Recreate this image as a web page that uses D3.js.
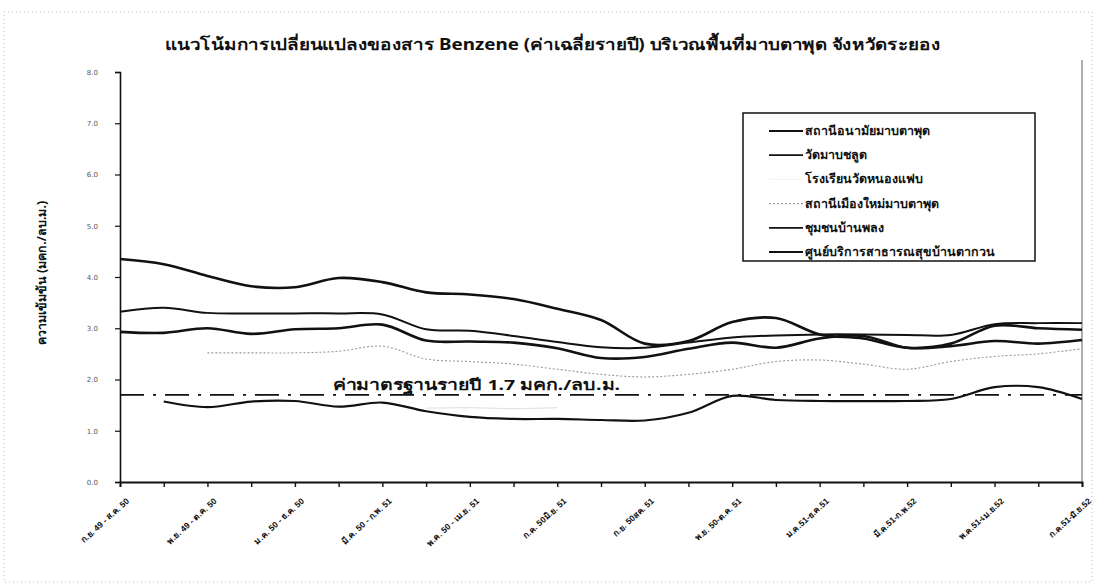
<!DOCTYPE html>
<html>
<head>
<meta charset="utf-8">
<script src="https://cdn.jsdelivr.net/npm/d3@7"></script>
<style>
  body { margin: 0; background: #fff; }
  svg { font-family: "Noto Sans", "DejaVu Sans", sans-serif; }
</style>
</head>
<body>
<div id="chart"></div>
<script>
// categories (rolling 12-month windows)
var categories = [
    "ก.ย. 49 - ส.ค. 50", "ต.ค. 49 - ก.ย. 50", "พ.ย. 49 - ต.ค. 50", "ธ.ค. 49 - พ.ย. 50",
    "ม.ค. 50 - ธ.ค. 50", "ก.พ. 50 - ม.ค. 51", "มี.ค. 50 - ก.พ. 51", "เม.ย. 50 - มี.ค. 51",
    "พ.ค. 50 - เม.ย. 51", "มิ.ย. 50 - พ.ค. 51", "ก.ค. 50มิ.ย. 51", "ส.ค. 50 - ก.ค. 51",
    "ก.ย. 50สค. 51", "ต.ค. 50 - ก.ย. 51", "พ.ย. 50-ต.ค. 51", "ธ.ค. 50 - พ.ย. 51",
    "ม.ค.51-ธ.ค.51", "ก.พ.51-ม.ค.52", "มี.ค.51-ก.พ.52", "เม.ย.51-มี.ค.52",
    "พ.ค.51-เม.ย.52", "มิ.ย.51-พ.ค.52", "ก.ค.51-มิ.ย.52"
];

var seriesNames = [
    "สถานีอนามัยมาบตาพุด",
    "วัดมาบชลูด",
    "โรงเรียนวัดหนองแฟบ",
    "สถานีเมืองใหม่มาบตาพุด",
    "ชุมชนบ้านพลง",
    "ศูนย์บริการสาธารณสุขบ้านตากวน"
];

var anamaiValues = [4.35, 4.25, 4.02, 3.82, 3.80, 3.98, 3.90, 3.70, 3.66, 3.57, 3.38, 3.16,
    2.70, 2.75, 3.12, 3.20, 2.88, 2.80, 2.62, 2.70, 3.05, 3.00, 2.97];
var watValues = [3.32, 3.40, 3.30, 3.29, 3.29, 3.29, 3.27, 2.98, 2.95, 2.85, 2.73, 2.63,
    2.62, 2.72, 2.82, 2.86, 2.88, 2.88, 2.87, 2.87, 3.08, 3.10, 3.10];
var schoolValues = [null, null, null, null, null, null, null, 1.44, 1.45, 1.43, 1.45, null,
    null, null, null, null, null, null, null, null, null, null, null];
var muangmaiValues = [null, null, 2.52, 2.52, 2.52, 2.55, 2.65, 2.40, 2.35, 2.30, 2.20, 2.10,
    2.05, 2.10, 2.20, 2.35, 2.38, 2.30, 2.20, 2.35, 2.45, 2.50, 2.60];
var chumchonValues = [2.93, 2.91, 3.00, 2.89, 2.98, 3.00, 3.07, 2.76, 2.74, 2.72, 2.61, 2.42,
    2.44, 2.60, 2.72, 2.62, 2.80, 2.85, 2.62, 2.65, 2.75, 2.70, 2.77];
var takuanValues = [null, 1.57, 1.46, 1.57, 1.58, 1.47, 1.55, 1.38, 1.27, 1.23, 1.23, 1.21,
    1.20, 1.35, 1.68, 1.60, 1.58, 1.58, 1.58, 1.62, 1.85, 1.85, 1.62];

var yTicks = [0, 1, 2, 3, 4, 5, 6, 7, 8];
var standardValue = 1.7;
var standardLabel = "ค่ามาตรฐานรายปี 1.7 มคก./ลบ.ม.";
var titleText = "แนวโน้มการเปลี่ยนแปลงของสาร Benzene (ค่าเฉลี่ยรายปี) บริเวณพื้นที่มาบตาพุด จังหวัดระยอง";
var yTitle = "ความเข้มข้น (มคก./ลบ.ม.)";

var W = 1118, H = 588;
var plot = {left: 120, right: 1082, top: 72, bottom: 482};

// line styles per series, same order as seriesNames
var styles = [
    {color: "#111", width: 2.6, dash: null},
    {color: "#111", width: 2.0, dash: null},
    {color: "#e4e4e4", width: 1.2, dash: null},
    {color: "#9a9a9a", width: 1.1, dash: "2,2"},
    {color: "#111", width: 2.6, dash: null},
    {color: "#111", width: 2.2, dash: null}
];
var allValues = [anamaiValues, watValues, schoolValues, muangmaiValues, chumchonValues, takuanValues];

var svg = d3.select("#chart").append("svg")
    .attr("width", W)
    .attr("height", H);

svg.append("rect").attr("width", W).attr("height", H).attr("fill", "#fff");

// faint outer frame of the chart area
svg.append("rect")
    .attr("x", 4).attr("y", 12)
    .attr("width", W - 30).attr("height", H - 18)
    .attr("fill", "none")
    .attr("stroke", "#bbb")
    .attr("stroke-width", 1)
    .attr("stroke-dasharray", "1,3");

var x = d3.scalePoint().domain(categories).range([plot.left, plot.right]);
var y = d3.scaleLinear().domain([0, 8]).range([plot.bottom, plot.top]);

// title
svg.append("text")
    .attr("x", 165).attr("y", 50)
    .attr("font-size", 16)
    .attr("font-weight", "bold")
    .attr("fill", "#111")
    .attr("textLength", 775)
    .attr("lengthAdjust", "spacingAndGlyphs")
    .text(titleText);

// y axis title
svg.append("text")
    .attr("transform", "translate(46," + ((plot.top + plot.bottom) / 2 - 4) + ") rotate(-90)")
    .attr("text-anchor", "middle")
    .attr("font-size", 12.5)
    .attr("font-weight", "bold")
    .attr("fill", "#111")
    .text(yTitle);

// plot right border
svg.append("line")
    .attr("x1", plot.right).attr("x2", plot.right)
    .attr("y1", 60).attr("y2", plot.bottom)
    .attr("stroke", "#777").attr("stroke-width", 1.2);

// y axis
var yAxis = svg.append("g")
    .attr("transform", "translate(" + plot.left + ",0)")
    .call(d3.axisLeft(y).tickValues(yTicks).tickFormat(d3.format(".1f")).tickSize(5));
yAxis.select(".domain").attr("stroke", "#111").attr("stroke-width", 1.6);
yAxis.selectAll(".tick line").attr("stroke", "#111").attr("stroke-width", 1.2);
yAxis.selectAll(".tick text")
    .attr("x", -22)
    .attr("font-size", 7)
    .attr("fill", "#555")
    .attr("font-family", "DejaVu Sans");

// x axis
var xAxis = svg.append("g")
    .attr("transform", "translate(0," + plot.bottom + ")")
    .call(d3.axisBottom(x).tickSize(5)
        .tickFormat(function(d, i) { return i % 2 === 0 ? d : ""; }));
xAxis.select(".domain").attr("stroke", "#111").attr("stroke-width", 1.8);
xAxis.selectAll(".tick line").attr("stroke", "#111").attr("stroke-width", 1.4);
xAxis.selectAll(".tick text")
    .attr("font-size", 8.5)
    .attr("font-weight", "bold")
    .attr("fill", "#111")
    .attr("text-anchor", "end")
    .attr("dy", null)
    .attr("transform", "translate(4,14) rotate(-42)");

// standard line
svg.append("line")
    .attr("x1", plot.left).attr("x2", plot.right)
    .attr("y1", y(standardValue)).attr("y2", y(standardValue))
    .attr("stroke", "#111")
    .attr("stroke-width", 1.6)
    .attr("stroke-dasharray", "24,9,3,9");

svg.append("text")
    .attr("x", 333).attr("y", y(standardValue) - 5)
    .attr("font-size", 15)
    .attr("font-weight", "bold")
    .attr("fill", "#111")
    .attr("textLength", 287)
    .attr("lengthAdjust", "spacingAndGlyphs")
    .text(standardLabel);

// series lines
var line = d3.line()
    .defined(function(d) { return d !== null; })
    .x(function(d, i) { return x(categories[i]); })
    .y(function(d) { return y(d); })
    .curve(d3.curveCatmullRom.alpha(0.5));

svg.append("g")
    .selectAll("path")
    .data(allValues)
    .enter().append("path")
    .attr("d", function(d) { return line(d); })
    .attr("fill", "none")
    .attr("stroke", function(d, i) { return styles[i].color; })
    .attr("stroke-width", function(d, i) { return styles[i].width; })
    .attr("stroke-dasharray", function(d, i) { return styles[i].dash; })
    .attr("stroke-linejoin", "round");

// legend
var lg = svg.append("g").attr("transform", "translate(743,113)");
lg.append("rect")
    .attr("width", 292).attr("height", 148)
    .attr("fill", "#fff")
    .attr("stroke", "#111")
    .attr("stroke-width", 1.5);

var items = lg.selectAll("g.item")
    .data(seriesNames)
    .enter().append("g")
    .attr("class", "item")
    .attr("transform", function(d, i) { return "translate(0," + (18 + i * 24.2) + ")"; });

items.append("line")
    .attr("x1", 26).attr("x2", 60)
    .attr("stroke", function(d, i) { return i === 2 ? "#f4f4f4" : styles[i].color; })
    .attr("stroke-width", function(d, i) { return Math.min(styles[i].width, 1.8); })
    .attr("stroke-dasharray", function(d, i) { return styles[i].dash; });

items.append("text")
    .attr("x", 62).attr("y", 4)
    .attr("font-size", 12.5)
    .attr("font-weight", "bold")
    .attr("fill", "#111")
    .text(function(d) { return d; });
</script>
</body>
</html>
